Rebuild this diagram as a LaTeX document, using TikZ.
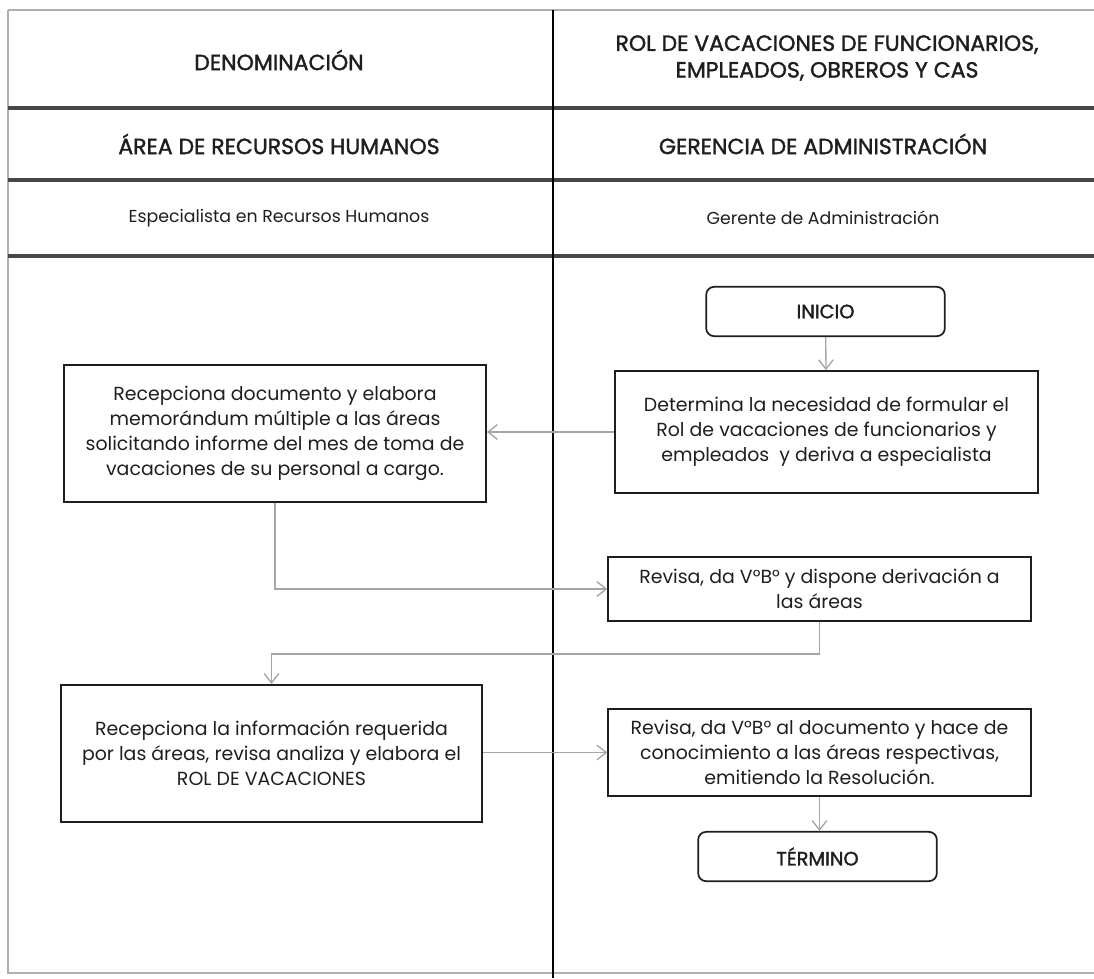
\documentclass[tikz,border=0pt]{standalone}
\usepackage{fontspec}
\setmainfont{Poppins}
\newfontfamily\headfont[FakeBold=1.6]{Poppins}
\usetikzlibrary{arrows.meta,positioning}
\definecolor{ink}{RGB}{30,30,30}
\definecolor{rulegray}{RGB}{70,70,70}
\definecolor{framegray}{RGB}{175,175,175}
\definecolor{flowgray}{RGB}{165,165,165}
\tikzset{
  title/.style={align=center,text=ink,font=\headfont\fontsize{16.5}{20}\selectfont},
  cell/.style={align=center,text=ink,font=\fontsize{13}{18}\selectfont},
  task/.style={draw=ink,line width=1.3pt,align=center,inner sep=0pt,text=ink,font=\fontsize{14.2}{18.75}\selectfont},
  term/.style={task,rounded corners=6pt,minimum width=179pt,minimum height=37pt,font=\headfont\fontsize{14.5}{18}\selectfont},
  flow/.style={-{Straight Barb[length=7pt,width=11pt]},draw=flowgray,line width=1pt}
}
\begin{document}
\begin{tikzpicture}[x=0.75pt,y=-0.75pt]
  \useasboundingbox (0,0) rectangle (1094,978);

  % table frame
  \draw[framegray,line width=0.8pt] (8,10) -- (1094,10);
  \draw[framegray,line width=1pt] (8,10) -- (8,973) -- (1094,973);
  \foreach \y in {108,180,256}
    \draw[rulegray,line width=2.4pt] (8,\y) -- (1094,\y);
  \draw[black,line width=1.5pt] (553,10) -- (553,978);

  % header cells
  \node[title] (hdrL) at (279,60) {DENOMINACIÓN};
  \node[title] (hdrR) at (827,58) {ROL DE VACACIONES DE FUNCIONARIOS,\\EMPLEADOS, OBREROS Y CAS};
  \node[title] (areaL) at (279,144) {ÁREA DE RECURSOS HUMANOS};
  \node[title] (areaR) at (823,144) {GERENCIA DE ADMINISTRACIÓN};
  \node[cell] (roleL) at (279,218) {Especialista en Recursos Humanos};
  \node[cell] (roleR) at (823,218) {Gerente de Administración};

  % flow
  \node[term] (inicio) at (825.5,311.5) {INICIO};
  \node[task,minimum width=317pt,minimum height=91.5pt] (determina) at (826.5,432)
    {Determina la necesidad de formular el\\Rol de vacaciones de funcionarios y\\empleados \ y deriva a especialista};
  \node[task,minimum width=316.5pt,minimum height=103pt] (recep1) at (275,433.5)
    {Recepciona documento y elabora\\memorándum múltiple a las áreas\\solicitando informe del mes de toma de\\vacaciones de su personal a cargo.};
  \node[task,minimum width=317pt,minimum height=48pt] (revisa1) at (819.5,589)
    {Revisa, da V°B° y dispone derivación a\\las áreas};
  \node[task,minimum width=316pt,minimum height=103pt] (recep2) at (271.5,753.5)
    {Recepciona la información requerida\\por las áreas, revisa analiza y elabora el\\ROL DE VACACIONES};
  \node[task,minimum width=317pt,minimum height=65pt] (revisa2) at (819.5,752.5)
    {Revisa, da V°B° al documento y hace de\\conocimiento a las áreas respectivas,\\emitiendo la Resolución.};
  \node[term] (termino) at (817.5,856.5) {TÉRMINO};

  \draw[flow] (inicio) -- (determina);
  \draw[flow] (determina.west) -- (determina.west -| recep1.east);
  \draw[flow] (recep1.south) |- (revisa1.west);
  \draw[flow] (revisa1.south) -- ++(0,32) -| (recep2.north);
  \draw[flow] (recep2.east |- revisa2.west) -- (revisa2.west);
  \draw[flow] (revisa2.south) -- (revisa2.south |- termino.north);
\end{tikzpicture}
\end{document}
